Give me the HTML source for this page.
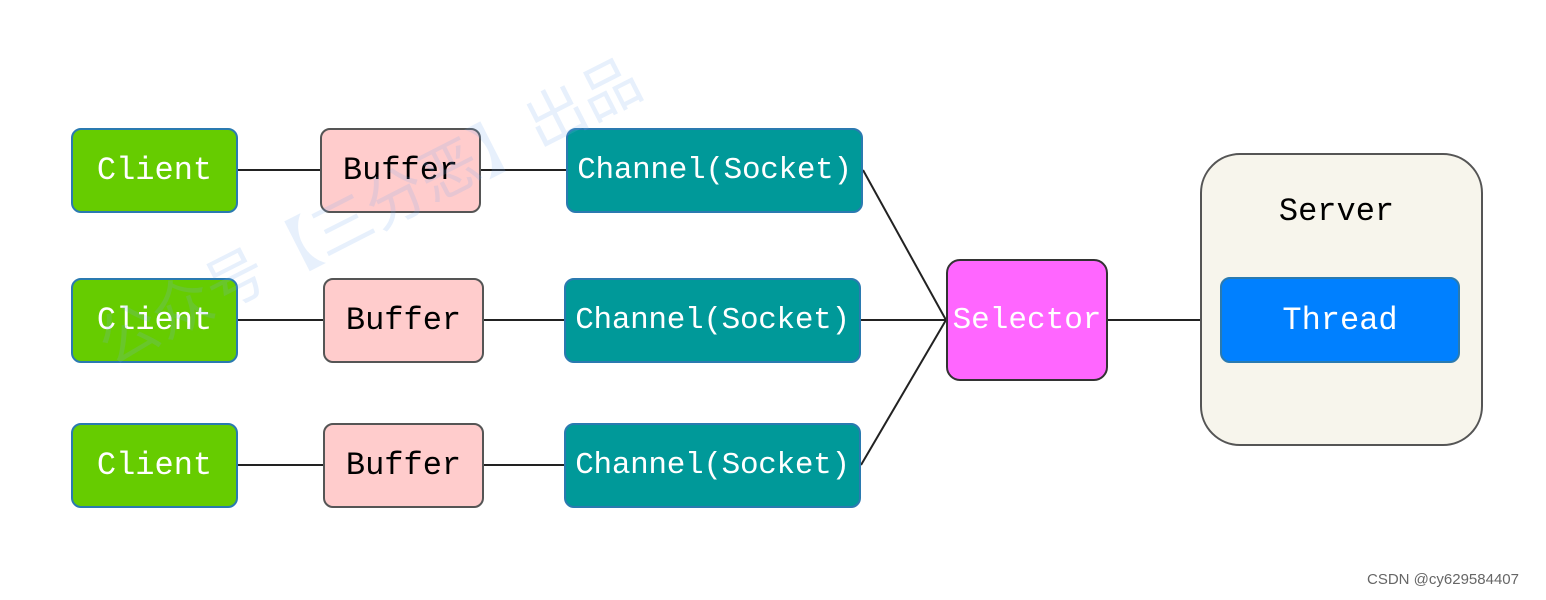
<!DOCTYPE html><html><head><style>
body{margin:0;width:1546px;height:600px;background:#fff;position:relative;overflow:hidden;font-family:"Liberation Mono",monospace}
.b{position:absolute;box-sizing:border-box;border-radius:10px;display:flex;align-items:center;justify-content:center;font-size:32px;white-space:nowrap}
.c{background:#66cc00;border:2px solid #2a7ab0;color:#fff}
.f{background:#ffcccc;border:2px solid #555;color:#000}
.h{background:#009999;border:2px solid #2a7ab0;color:#fff;font-size:31px;letter-spacing:-0.3px}
</style></head><body>
<svg width="1546" height="600" style="position:absolute;left:0;top:0">
<g stroke="#222" stroke-width="2">
<line x1="238" y1="170" x2="566" y2="170"/>
<line x1="238" y1="320" x2="564" y2="320"/>
<line x1="238" y1="465" x2="564" y2="465"/>
<line x1="863" y1="170" x2="946" y2="320"/>
<line x1="861" y1="320" x2="946" y2="320"/>
<line x1="861" y1="465" x2="946" y2="320"/>
<line x1="1108" y1="320" x2="1220" y2="320"/>
</g></svg>
<div class="b c" style="left:71px;top:128px;width:167px;height:85px">Client</div>
<div class="b c" style="left:71px;top:278px;width:167px;height:85px">Client</div>
<div class="b c" style="left:71px;top:423px;width:167px;height:85px">Client</div>
<div class="b f" style="left:320px;top:128px;width:161px;height:85px">Buffer</div>
<div class="b f" style="left:323px;top:278px;width:161px;height:85px">Buffer</div>
<div class="b f" style="left:323px;top:423px;width:161px;height:85px">Buffer</div>
<div class="b h" style="left:566px;top:128px;width:297px;height:85px">Channel(Socket)</div>
<div class="b h" style="left:564px;top:278px;width:297px;height:85px">Channel(Socket)</div>
<div class="b h" style="left:564px;top:423px;width:297px;height:85px">Channel(Socket)</div>
<div class="b" style="left:946px;top:259px;width:162px;height:122px;background:#ff66ff;border:2px solid #333;color:#fff;border-radius:14px;font-size:31px">Selector</div>
<div class="b" style="left:1200px;top:153px;width:283px;height:293px;background:#f7f5ec;border:2px solid #555;border-radius:40px;align-items:flex-start;padding-top:38px;padding-right:10px">Server</div>
<div class="b" style="left:1220px;top:277px;width:240px;height:86px;background:#0080ff;border:2px solid #2a7ab0;color:#fff">Thread</div>
<div style="position:absolute;left:80px;top:305px;transform:rotate(-27deg);transform-origin:left top;font:60px 'Noto Sans CJK SC',sans-serif;color:rgba(120,170,240,0.18);white-space:nowrap">公众号【三分恶】出品</div>
<div style="position:absolute;left:1367px;top:571px;font:15px 'Liberation Sans',sans-serif;color:#666">CSDN @cy629584407</div>
</body></html>
